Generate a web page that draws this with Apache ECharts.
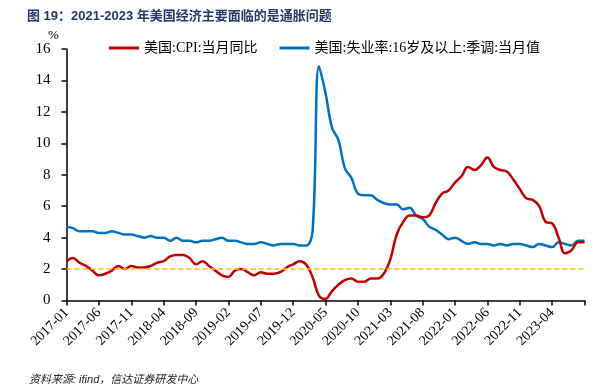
<!DOCTYPE html>
<html>
    <head>
        <meta charset="utf-8">
        <script src="https://cdn.jsdelivr.net/npm/echarts@6/dist/echarts.min.js"></script>
    </head>
    <body style="margin:0">
        <style>
            #main {
                width: 603px;
                height: 390px;
            }
        </style>
        <div id="main"></div>
        <script>

            // 月份 2017-01 ~ 2023-09
            var months = [];
            for (var y = 2017; y <= 2023; y++) {
                for (var m = 1; m <= 12; m++) {
                    if (y === 2023 && m > 9) break;
                    months.push(y + '-' + (m < 10 ? '0' + m : m));
                }
            }

            // 美国:CPI:当月同比
            var cpi = [
                2.5, 2.7, 2.4, 2.2, 1.9, 1.6, 1.7, 1.9, 2.2, 2.0, 2.2, 2.1,
                2.1, 2.2, 2.4, 2.5, 2.8, 2.9, 2.9, 2.7, 2.3, 2.5, 2.2, 1.9,
                1.6, 1.5, 1.9, 2.0, 1.8, 1.6, 1.8, 1.7, 1.7, 1.8, 2.1, 2.3,
                2.5, 2.3, 1.5, 0.3, 0.1, 0.6, 1.0, 1.3, 1.4, 1.2, 1.2, 1.4,
                1.4, 1.7, 2.6, 4.2, 5.0, 5.4, 5.4, 5.3, 5.4, 6.2, 6.8, 7.0,
                7.5, 7.9, 8.5, 8.3, 8.6, 9.1, 8.5, 8.3, 8.2, 7.7, 7.1, 6.5,
                6.4, 6.0, 5.0, 4.9, 4.0, 3.0, 3.2, 3.7, 3.7
            ];

            // 美国:失业率:16岁及以上:季调:当月值
            var unemp = [
                4.7, 4.6, 4.4, 4.4, 4.4, 4.3, 4.3, 4.4, 4.3, 4.2, 4.2, 4.1,
                4.0, 4.1, 4.0, 4.0, 3.8, 4.0, 3.8, 3.8, 3.7, 3.8, 3.8, 3.9,
                4.0, 3.8, 3.8, 3.7, 3.6, 3.6, 3.7, 3.6, 3.5, 3.6, 3.6, 3.6,
                3.5, 3.5, 4.4, 14.9, 13.2, 11.0, 10.2, 8.4, 7.8, 6.8, 6.7, 6.7,
                6.4, 6.2, 6.1, 6.1, 5.8, 5.9, 5.4, 5.2, 4.7, 4.5, 4.2, 3.9,
                4.0, 3.8, 3.6, 3.7, 3.6, 3.6, 3.5, 3.6, 3.5, 3.6, 3.6, 3.5,
                3.4, 3.6, 3.5, 3.4, 3.7, 3.6, 3.5, 3.8, 3.8
            ];

            var target = 2;  // 通胀目标线

            var serif = '"Liberation Serif", "Times New Roman", "Noto Sans CJK SC", serif';

            var chart = echarts.init(document.getElementById('main'));

            var option = {
                animation: false,
                backgroundColor: '#fff',
                title: [{
                    text: '图 19：2021-2023 年美国经济主要面临的是通胀问题',
                    left: 22,
                    top: 5,
                    textStyle: {
                        fontSize: 13,
                        fontWeight: 'bold',
                        color: '#1f3a68',
                        fontFamily: '"Liberation Sans", Arial, "Noto Sans CJK SC", sans-serif'
                    }
                }, {
                    text: '资料来源: ifind，信达证券研发中心',
                    left: 24,
                    top: 369,
                    textStyle: {
                        fontSize: 11,
                        fontWeight: 'normal',
                        fontStyle: 'italic',
                        color: '#222',
                        fontFamily: '"Liberation Sans", Arial, "Noto Sans CJK SC", sans-serif'
                    }
                }],
                legend: {
                    left: 104,
                    top: 36,
                    itemWidth: 30,
                    itemHeight: 3,
                    itemGap: 22,
                    icon: 'rect',
                    textStyle: {
                        fontSize: 14,
                        color: '#000',
                        fontFamily: serif
                    },
                    data: ['美国:CPI:当月同比', '美国:失业率:16岁及以上:季调:当月值']
                },
                grid: {
                    left: 66.5,
                    right: 18.5,
                    top: 49,
                    bottom: 89.5
                },
                xAxis: {
                    type: 'category',
                    boundaryGap: false,
                    data: months,
                    axisLine: {lineStyle: {color: '#000', width: 1.5}},
                    axisTick: {
                        length: 5,
                        lineStyle: {color: '#000', width: 1.5},
                        interval: function (i) { return i % 5 === 0; }
                    },
                    axisLabel: {
                        rotate: 45,
                        margin: 10,
                        color: '#000',
                        fontSize: 14,
                        fontFamily: serif,
                        interval: function (i) { return i % 5 === 0 && i < 80; }
                    }
                },
                yAxis: {
                    type: 'value',
                    min: 0,
                    max: 16,
                    interval: 2,
                    name: '%',
                    nameLocation: 'end',
                    nameGap: 6,
                    nameTextStyle: {
                        color: '#000',
                        fontSize: 13,
                        fontFamily: serif,
                        padding: [0, 26, 0, 0]
                    },
                    splitLine: {show: false},
                    axisLine: {show: true, lineStyle: {color: '#000', width: 1.5}},
                    axisTick: {show: true, length: 5, lineStyle: {color: '#000', width: 1.5}},
                    axisLabel: {
                        color: '#000',
                        fontSize: 15,
                        margin: 16,
                        fontFamily: serif
                    }
                },
                series: [{
                    name: '美国:CPI:当月同比',
                    type: 'line',
                    data: cpi,
                    smooth: 0.4,
                    showSymbol: false,
                    color: '#c00000',
                    lineStyle: {width: 2.5, color: '#c00000'},
                    z: 3,
                    markLine: {
                        silent: true,
                        symbol: 'none',
                        label: {show: false},
                        lineStyle: {color: '#ffc000', type: [5, 3], width: 1.5},
                        data: [{yAxis: target}]
                    }
                }, {
                    name: '美国:失业率:16岁及以上:季调:当月值',
                    type: 'line',
                    data: unemp,
                    smooth: 0.4,
                    showSymbol: false,
                    color: '#0070c0',
                    lineStyle: {width: 2.5, color: '#0070c0'},
                    z: 2
                }]
            };

            chart.setOption(option);
        </script>
    </body>
</html>
